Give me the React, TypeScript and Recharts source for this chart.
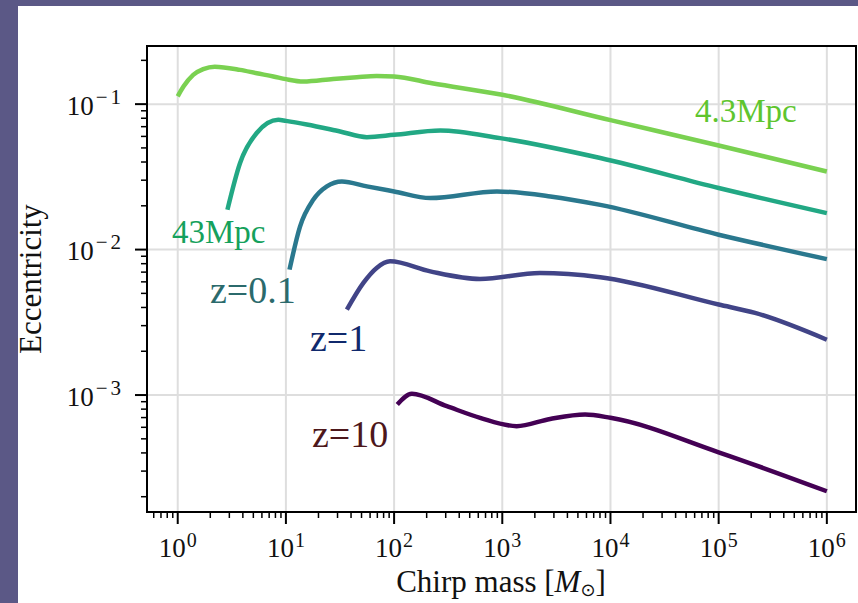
import { LineChart, Line, XAxis, YAxis, CartesianGrid, ReferenceArea } from "recharts"

// chirp mass [Msun] and eccentricity
const mass4p3Mpc = [1, 1.13, 1.39, 1.72, 2.2, 3.77, 5.38, 7.66, 10, 14.5, 27.3, 45.2, 69, 100, 224, 1000, 1e4, 1e5, 1e6]
const ecc4p3Mpc = [0.113, 0.132, 0.159, 0.174, 0.181, 0.172, 0.163, 0.155, 0.1485, 0.143, 0.149, 0.1532, 0.156, 0.155, 0.139, 0.116, 0.0776, 0.052, 0.0344]

const mass43Mpc = [2.88, 3.77, 5.37, 8.5, 10, 15.6, 31.7, 56, 100, 267, 955, 8050, 1e5, 1e6]
const ecc43Mpc = [0.0188, 0.0394, 0.0633, 0.078, 0.0767, 0.0725, 0.0649, 0.0593, 0.0615, 0.0659, 0.0584, 0.0426, 0.0265, 0.0178]

const massZ01 = [10.8, 13.5, 17.9, 23.9, 32.9, 56, 100, 216, 893, 2780, 8050, 1e5, 1e6]
const eccZ01 = [0.00728, 0.0144, 0.022, 0.0272, 0.0294, 0.0272, 0.0251, 0.0226, 0.0251, 0.0232, 0.0203, 0.01266, 0.0086]

const massZ1 = [36.6, 52, 69, 91.7, 216, 622, 2230, 8050, 1e5, 2.17e5, 1e6]
const eccZ1 = [0.00386, 0.0059, 0.00748, 0.0083, 0.00708, 0.00628, 0.0069, 0.00646, 0.00419, 0.00367, 0.0024]

const massZ10 = [107, 146, 307, 624, 1358, 2770, 5830, 1e4, 1e5, 1e6]
const eccZ10 = [0.000861, 0.00102, 0.000838, 0.000697, 0.000611, 0.000685, 0.000735, 0.000697, 0.000404, 0.000218]

const xMajorTicks = [1, 10, 100, 1e3, 1e4, 1e5, 1e6]
const yMajorTicks = [1e-3, 1e-2, 1e-1]
const xDomain = [0.52, 1.86e6]
const yDomain = [1.57e-4, 0.251]

const toPoints = (mass: number[], ecc: number[]) => mass.map((m, i) => ({ m, e: ecc[i] }))

const series = [
  { key: "4.3Mpc", data: toPoints(mass4p3Mpc, ecc4p3Mpc), color: "#7ad151" },
  { key: "43Mpc", data: toPoints(mass43Mpc, ecc43Mpc), color: "#22a884" },
  { key: "z=0.1", data: toPoints(massZ01, eccZ01), color: "#2a788e" },
  { key: "z=1", data: toPoints(massZ1, eccZ1), color: "#414487" },
  { key: "z=10", data: toPoints(massZ10, eccZ10), color: "#440154" },
]

// all 1..9 x 10^k ticks inside the range
function logTicks(lo: number, hi: number) {
  const out: number[] = []
  for (let k = Math.floor(Math.log10(lo)); k <= Math.ceil(Math.log10(hi)); k++) {
    for (let m = 1; m < 10; m++) {
      const v = m * Math.pow(10, k)
      if (v >= lo && v <= hi) out.push(v)
    }
  }
  return out
}

const isMajor = (v: number) => {
  const l = Math.log10(v)
  return Math.abs(l - Math.round(l)) < 1e-9
}

const serif = "'Liberation Serif', 'Times New Roman', serif"

function XTick(props: any) {
  const { x, y, payload } = props
  const v = payload.value
  const major = isMajor(v)
  return (
    <g>
      <line x1={x} x2={x} y1={y} y2={y + (major ? 12 : 6)} stroke="#000" strokeWidth={major ? 2 : 1.5} />
      {major && (
        <text x={x} y={y + 44.5} textAnchor="middle" fontFamily={serif} fontSize={27} fill="#111">
          10
          <tspan dx={1} dy={-10} fontSize={20}>{Math.round(Math.log10(v))}</tspan>
        </text>
      )}
    </g>
  )
}

function YTick(props: any) {
  const { x, y, payload } = props
  const v = payload.value
  const major = isMajor(v)
  const exp = Math.round(Math.log10(v))
  return (
    <g>
      <line x1={x} x2={x - (major ? 12 : 6)} y1={y} y2={y} stroke="#000" strokeWidth={major ? 2 : 1.5} />
      {major && (
        <text x={x - 26} y={y + 10.5} textAnchor="end" fontFamily={serif} fontSize={27} fill="#111">
          10
          <tspan dx={2} dy={-11} fontSize={21}>{"\u2212"}</tspan>
          <tspan dx={3} fontSize={21}>{Math.abs(exp)}</tspan>
        </text>
      )}
    </g>
  )
}

export default function App() {
  const xTicks = logTicks(xDomain[0], xDomain[1])
  const yTicks = logTicks(yDomain[0], yDomain[1])
  return (
    <div style={{ position: "absolute", left: 0, top: 0, width: 858, height: 603, background: "#5b5886", overflow: "hidden" }}>
      <div style={{ position: "absolute", left: 18, top: 6, width: 840, height: 597, background: "#fff" }} />
      <div style={{ position: "absolute", left: 0, top: 0 }}>
        <LineChart width={858} height={603} margin={{ top: 46, right: 2, bottom: 0, left: 0 }}>
          <CartesianGrid
            horizontalValues={yMajorTicks}
            verticalValues={xMajorTicks}
            stroke="#dedede"
            strokeWidth={2}
          />
          <XAxis
            type="number"
            dataKey="m"
            scale="log"
            domain={xDomain}
            allowDataOverflow
            ticks={xTicks}
            interval={0}
            height={91}
            tickLine={false}
            tickSize={0}
            tickMargin={0}
            axisLine={{ stroke: "#000", strokeWidth: 2 }}
            tick={<XTick />}
          />
          <YAxis
            type="number"
            scale="log"
            domain={yDomain}
            allowDataOverflow
            ticks={yTicks}
            interval={0}
            width={147}
            tickLine={false}
            tickSize={0}
            tickMargin={0}
            axisLine={{ stroke: "#000", strokeWidth: 2 }}
            tick={<YTick />}
          />
          {series.map((s) => (
            <Line
              key={s.key}
              data={s.data}
              dataKey="e"
              type="monotone"
              stroke={s.color}
              strokeWidth={4.5}
              dot={false}
              isAnimationActive={false}
            />
          ))}
          <ReferenceArea
            x1={xDomain[0]}
            x2={xDomain[1]}
            y1={yDomain[0]}
            y2={yDomain[1]}
            fill="none"
            fillOpacity={0}
            stroke="#000"
            strokeWidth={2}
            ifOverflow="visible"
          />
        </LineChart>
      </div>
      <svg width={858} height={603} style={{ position: "absolute", left: 0, top: 0, pointerEvents: "none" }}>
        <g fontFamily={serif}>
          <text x={695} y={122} fontSize={33} fill="#5ec52e">4.3Mpc</text>
          <text x={172} y={243} fontSize={33} fill="#15a15c">43Mpc</text>
          <text x={210} y={303} fontSize={38} fill="#2b6a6c">z=0.1</text>
          <text x={310} y={351} fontSize={38} fill="#10296c">z=1</text>
          <text x={312} y={447} fontSize={38} fill="#4d171b">z=10</text>
          <text x={501} y={592} fontSize={31} textAnchor="middle" fill="#111">
            Chirp mass [<tspan fontStyle="italic">M</tspan>
            <tspan dy={4} fontSize={18} fontFamily="'DejaVu Sans', sans-serif">{"\u2299"}</tspan>
            <tspan dy={-4}>]</tspan>
          </text>
          <text transform="translate(41,279) rotate(-90)" fontSize={31} textAnchor="middle" fill="#111">
            Eccentricity
          </text>
        </g>
      </svg>
    </div>
  )
}
